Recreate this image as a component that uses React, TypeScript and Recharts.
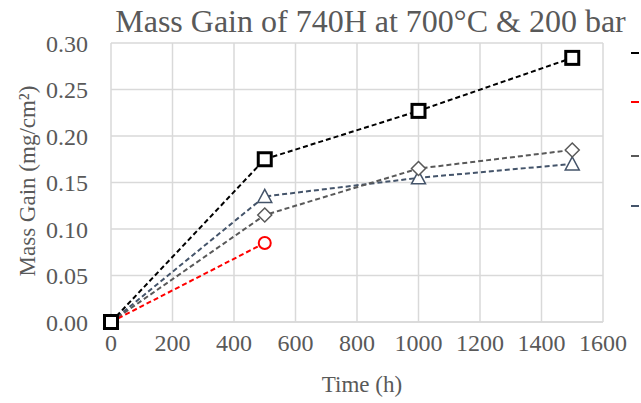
import { LineChart, Line, XAxis, YAxis, CartesianGrid, Label, Legend } from 'recharts';

const times = [0, 500, 1000, 1500];
const seriesA = [0, 0.175, 0.227, 0.284]; // black squares
const seriesB = [0, 0.085, null, null]; // red circles
const seriesC = [0, 0.115, 0.165, 0.185]; // gray diamonds
const seriesD = [0, 0.135, 0.155, 0.17]; // slate triangles
const xTicks = [0, 200, 400, 600, 800, 1000, 1200, 1400, 1600];
const yTicks = [0, 0.05, 0.1, 0.15, 0.2, 0.25, 0.3];

const data = times.map((t, i) => ({ t, a: seriesA[i], b: seriesB[i], c: seriesC[i], d: seriesD[i] }));

const FONT = '"Liberation Serif", serif';
const TEXT = '#595959';

const legendItems = [
  { color: '#000000', top: 52 },
  { color: '#ff0000', top: 101 },
  { color: '#595959', top: 155 },
  { color: '#44546a', top: 205 },
];

const SquareDot = (props: any) => {
  const { cx, cy } = props;
  if (cx == null || cy == null) return null;
  return <rect x={cx - 6.5} y={cy - 6.5} width={13} height={13} fill="#fff" stroke="#000" strokeWidth={3} />;
};
const CircleDot = (props: any) => {
  const { cx, cy } = props;
  if (cx == null || cy == null) return null;
  return <circle cx={cx} cy={cy} r={6} fill="#fff" stroke="#ff0000" strokeWidth={2} />;
};
const DiamondDot = (props: any) => {
  const { cx, cy } = props;
  if (cx == null || cy == null) return null;
  return <path d={`M${cx},${cy - 7}L${cx + 7},${cy}L${cx},${cy + 7}L${cx - 7},${cy}Z`} fill="#fff" stroke="#595959" strokeWidth={1.5} />;
};
const TriangleDot = (props: any) => {
  const { cx, cy } = props;
  if (cx == null || cy == null) return null;
  return <path d={`M${cx},${cy - 7}L${cx + 7},${cy + 6}L${cx - 7},${cy + 6}Z`} fill="#fff" stroke="#44546a" strokeWidth={1.5} />;
};

const txt = (size: number) => ({ fontFamily: FONT, fontSize: size, fill: TEXT });

const XTitle = () => (
  <text x={362} y={392} textAnchor="middle" style={txt(23)}>
    Time (h)
  </text>
);
const YTitle = () => (
  <text x={35} y={181} transform="rotate(-90 35 181)" textAnchor="middle" style={txt(23)}>
    Mass Gain (mg/cm²)
  </text>
);

const renderLegend = () => (
  <div style={{ position: 'relative', width: 10, height: 200 }}>
    {legendItems.map((it, i) => (
      <div key={i} style={{ position: 'absolute', left: 0, top: it.top - 44, width: 8, height: 0, borderTop: `2px dashed ${it.color}` }} />
    ))}
  </div>
);

const css = `
.recharts-cartesian-axis-tick-value, .recharts-cartesian-axis-tick text, .recharts-text {
  font-family: "Liberation Serif", serif !important;
  font-size: 24px !important;
  fill: #595959 !important;
}
`;

export default function App() {
  return (
    <div style={{ position: 'absolute', left: 0, top: 0, width: 641, height: 403, background: '#fff', fontFamily: FONT }}>
      <style>{css}</style>
      <div style={{ position: 'absolute', left: 0, top: 3, width: 741, textAlign: 'center', fontSize: 32, color: TEXT, lineHeight: '36px', whiteSpace: 'nowrap' }}>
        Mass Gain of 740H at 700°C &amp; 200 bar
      </div>
      <LineChart width={641} height={403} data={data} margin={{ top: 43, right: 28, bottom: 0, left: 0 }}>
        <CartesianGrid stroke="#d9d9d9" strokeWidth={1.5} />
        <XAxis
          dataKey="t"
          type="number"
          domain={[0, 1600]}
          ticks={xTicks}
          height={81}
          tickLine={false}
          axisLine={{ stroke: '#d9d9d9', strokeWidth: 1.5 }}
          fontSize={24}
          fontFamily={FONT}
          tick={{ fill: TEXT, fontSize: 24, fontFamily: FONT }}
          tickMargin={6}
        >
          <Label content={XTitle} />
        </XAxis>
        <YAxis
          type="number"
          domain={[0, 0.3]}
          ticks={yTicks}
          width={111}
          tickLine={false}
          axisLine={false}
          fontSize={24}
          fontFamily={FONT}
          tick={{ fill: TEXT, fontSize: 24, fontFamily: FONT }}
          tickFormatter={(v: number) => v.toFixed(2)}
          tickMargin={17}
        >
          <Label content={YTitle} />
        </YAxis>
        <Legend layout="vertical" align="right" verticalAlign="top" content={renderLegend} wrapperStyle={{ right: 0, top: 44 }} />
        <Line dataKey="d" stroke="#44546a" strokeWidth={2} strokeDasharray="5 3" dot={<TriangleDot />} isAnimationActive={false} />
        <Line dataKey="c" stroke="#595959" strokeWidth={2} strokeDasharray="5 3" dot={<DiamondDot />} isAnimationActive={false} />
        <Line dataKey="b" stroke="#ff0000" strokeWidth={2} strokeDasharray="5 3" dot={<CircleDot />} isAnimationActive={false} />
        <Line dataKey="a" stroke="#000000" strokeWidth={2} strokeDasharray="5 3" dot={<SquareDot />} isAnimationActive={false} />
      </LineChart>
    </div>
  );
}
